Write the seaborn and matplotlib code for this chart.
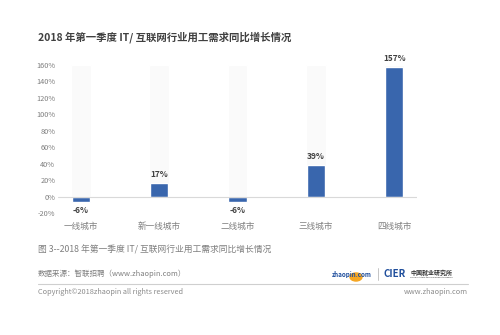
import matplotlib
matplotlib.use("Agg")
import matplotlib.pyplot as plt
import seaborn as sns
import pandas as pd

cities = ["一线城市", "新一线城市", "二线城市", "三线城市", "四线城市"]
growth = [-6, 17, -6, 39, 157]
y_ticks = [-20, 0, 20, 40, 60, 80, 100, 120, 140, 160]

title = "2018 年第一季度 IT/ 互联网行业用工需求同比增长情况"
caption = "图 3--2018 年第一季度 IT/ 互联网行业用工需求同比增长情况"
source = "数据来源：智联招聘（www.zhaopin.com）"
copyright_text = "Copyright©2018zhaopin all rights reserved"
site = "www.zhaopin.com"

sns.set_theme(style="white")
plt.rcParams["font.family"] = ["Noto Sans CJK SC", "DejaVu Sans"]

df = pd.DataFrame({"city": cities, "growth": growth, "full": [y_ticks[-1]] * len(cities)})

fig = plt.figure(figsize=(5.0, 3.35), dpi=100)
ax = fig.add_axes([0.116, 0.363, 0.718, 0.443])

# faint backdrop columns reaching the top of the scale
sns.barplot(data=df, x="city", y="full", color="#fafafa", width=0.25,
            saturation=1, ax=ax, zorder=1)
sns.barplot(data=df, x="city", y="growth", color="#3966ad", width=0.23,
            saturation=1, ax=ax, zorder=2)

ax.axhline(0, color="#d9d9d9", lw=0.8, zorder=3)
ax.set_xlim(-0.29, 4.29)
ax.set_ylim(-20, 160)
ax.set_yticks(y_ticks)
ax.set_yticklabels([f"{t}%" for t in y_ticks], fontsize=5.3, color="#7f7f7f")
ax.tick_params(axis="y", length=0, pad=2)
ax.tick_params(axis="x", length=0, pad=6)
ax.set_xticks(range(len(cities)))
ax.set_xticklabels(cities, fontsize=6.2, color="#7f7f7f")
ax.set_xlabel("")
ax.set_ylabel("")
for s in ax.spines.values():
    s.set_visible(False)

for i, v in enumerate(growth):
    if v >= 0:
        ax.annotate(f"{v}%", (i, v), xytext=(0, 3), textcoords="offset points",
                    ha="center", va="bottom", fontsize=6, fontweight="bold",
                    color="#404040")
    else:
        ax.annotate(f"{v}%", (i, v), xytext=(0, -3), textcoords="offset points",
                    ha="center", va="top", fontsize=6, fontweight="bold",
                    color="#404040")

fig.text(38 / 500, 1 - 37 / 335, title, fontsize=7.5, fontweight="bold",
         color="#404040", va="center", ha="left")
fig.text(38 / 500, 1 - 250 / 335, caption, fontsize=6.3, color="#7f7f7f",
         va="center", ha="left")
fig.text(38 / 500, 1 - 274 / 335, source, fontsize=5.4, color="#7f7f7f",
         va="center", ha="left")
fig.text(38 / 500, 1 - 292 / 335, copyright_text, fontsize=5.3, color="#8c8c8c",
         va="center", ha="left")
fig.text(468 / 500, 1 - 292 / 335, site, fontsize=5.3, color="#8c8c8c",
         va="center", ha="right")

fig.add_artist(plt.Line2D([38 / 500, 468 / 500], [1 - 284 / 335] * 2,
                          color="#cfcfcf", lw=0.8))

# logos in the footer
fig.add_artist(matplotlib.patches.Circle((356 / 500, 1 - 277 / 335), 6 / 500,
                                         color="#f5a623", zorder=1,
                                         transform=fig.transFigure))
fig.text(352 / 500, 1 - 274 / 335, "zhaopin.com", fontsize=4.5, fontweight="bold",
         fontstyle="italic", color="#1f4e9c", va="center", ha="center", zorder=2)
fig.add_artist(plt.Line2D([378 / 500, 378 / 500], [1 - 268 / 335, 1 - 280 / 335],
                          color="#bbbbbb", lw=0.6))
fig.text(383 / 500, 1 - 274 / 335, "CIER", fontsize=7, fontweight="bold",
         color="#1f4e9c", va="center", ha="left")
fig.text(410 / 500, 1 - 272 / 335, "中国就业研究所", fontsize=4.3, fontweight="bold",
         color="#303030", va="center", ha="left")
fig.text(410 / 500, 1 - 277.5 / 335, "China Institute for Employment Research",
         fontsize=1.6, color="#303030", va="center", ha="left")

fig.savefig("out.png", dpi=100, facecolor="white")
